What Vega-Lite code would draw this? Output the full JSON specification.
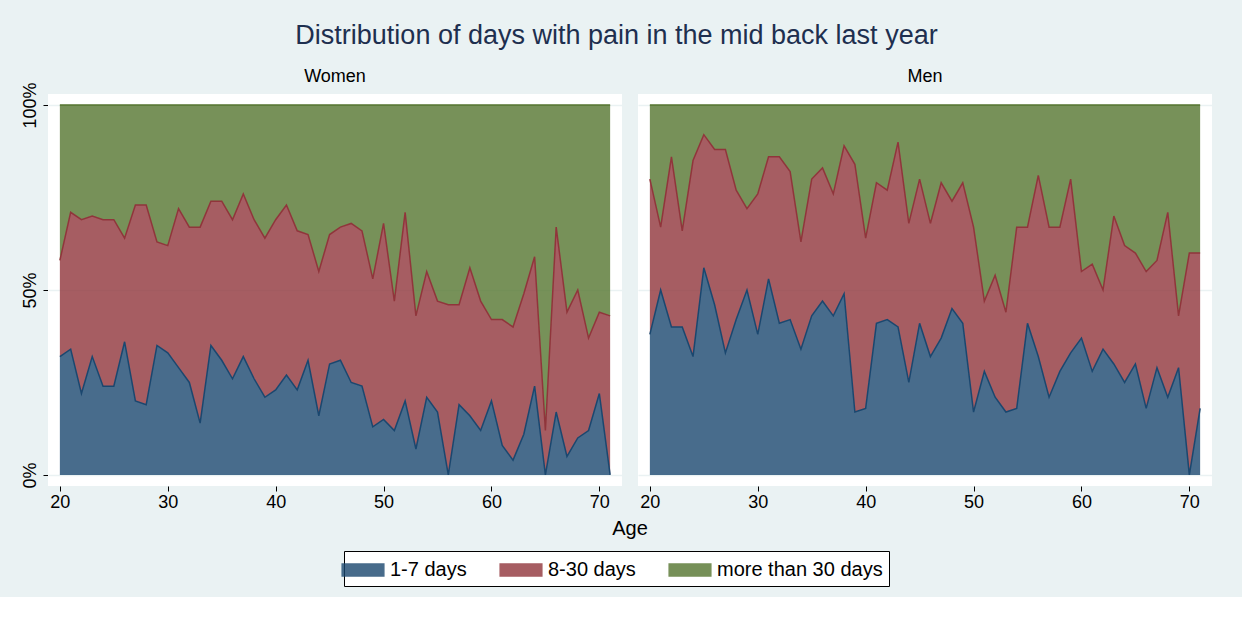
{
"$schema":"https://vega.github.io/schema/vega-lite/v6.json",
"background":"#eaf2f3",
"padding":{"left":20,"top":22,"right":30,"bottom":10},
"title":{"text":"Distribution of days with pain in the mid back last year","fontSize":27,"font":"Liberation Sans","fontWeight":"normal","color":"#1e2f4f","offset":18,"anchor":"middle"},
"data":{"values":[
{"s":"Women","age":20,"a":32,"b":26,"c":42},{"s":"Women","age":21,"a":34,"b":37,"c":29},{"s":"Women","age":22,"a":22,"b":47,"c":31},{"s":"Women","age":23,"a":32,"b":38,"c":30},{"s":"Women","age":24,"a":24,"b":45,"c":31},{"s":"Women","age":25,"a":24,"b":45,"c":31},{"s":"Women","age":26,"a":36,"b":28,"c":36},{"s":"Women","age":27,"a":20,"b":53,"c":27},{"s":"Women","age":28,"a":19,"b":54,"c":27},{"s":"Women","age":29,"a":35,"b":28,"c":37},{"s":"Women","age":30,"a":33,"b":29,"c":38},{"s":"Women","age":31,"a":29,"b":43,"c":28},{"s":"Women","age":32,"a":25,"b":42,"c":33},{"s":"Women","age":33,"a":14,"b":53,"c":33},{"s":"Women","age":34,"a":35,"b":39,"c":26},{"s":"Women","age":35,"a":31,"b":43,"c":26},{"s":"Women","age":36,"a":26,"b":43,"c":31},{"s":"Women","age":37,"a":32,"b":44,"c":24},{"s":"Women","age":38,"a":26,"b":43,"c":31},{"s":"Women","age":39,"a":21,"b":43,"c":36},{"s":"Women","age":40,"a":23,"b":46,"c":31},{"s":"Women","age":41,"a":27,"b":46,"c":27},{"s":"Women","age":42,"a":23,"b":43,"c":34},{"s":"Women","age":43,"a":31,"b":34,"c":35},{"s":"Women","age":44,"a":16,"b":39,"c":45},{"s":"Women","age":45,"a":30,"b":35,"c":35},{"s":"Women","age":46,"a":31,"b":36,"c":33},{"s":"Women","age":47,"a":25,"b":43,"c":32},{"s":"Women","age":48,"a":24,"b":42,"c":34},{"s":"Women","age":49,"a":13,"b":40,"c":47},{"s":"Women","age":50,"a":15,"b":53,"c":32},{"s":"Women","age":51,"a":12,"b":35,"c":53},{"s":"Women","age":52,"a":20,"b":51,"c":29},{"s":"Women","age":53,"a":7,"b":36,"c":57},{"s":"Women","age":54,"a":21,"b":34,"c":45},{"s":"Women","age":55,"a":17,"b":30,"c":53},{"s":"Women","age":56,"a":0,"b":46,"c":54},{"s":"Women","age":57,"a":19,"b":27,"c":54},{"s":"Women","age":58,"a":16,"b":40,"c":44},{"s":"Women","age":59,"a":12,"b":35,"c":53},{"s":"Women","age":60,"a":20,"b":22,"c":58},{"s":"Women","age":61,"a":8,"b":34,"c":58},{"s":"Women","age":62,"a":4,"b":36,"c":60},{"s":"Women","age":63,"a":11,"b":38,"c":51},{"s":"Women","age":64,"a":24,"b":35,"c":41},{"s":"Women","age":65,"a":0,"b":12,"c":88},{"s":"Women","age":66,"a":17,"b":50,"c":33},{"s":"Women","age":67,"a":5,"b":39,"c":56},{"s":"Women","age":68,"a":10,"b":40,"c":50},{"s":"Women","age":69,"a":12,"b":25,"c":63},{"s":"Women","age":70,"a":22,"b":22,"c":56},{"s":"Women","age":71,"a":0,"b":43,"c":57},
{"s":"Men","age":20,"a":38,"b":42,"c":20},{"s":"Men","age":21,"a":50,"b":17,"c":33},{"s":"Men","age":22,"a":40,"b":46,"c":14},{"s":"Men","age":23,"a":40,"b":26,"c":34},{"s":"Men","age":24,"a":32,"b":53,"c":15},{"s":"Men","age":25,"a":56,"b":36,"c":8},{"s":"Men","age":26,"a":46,"b":42,"c":12},{"s":"Men","age":27,"a":33,"b":55,"c":12},{"s":"Men","age":28,"a":42,"b":35,"c":23},{"s":"Men","age":29,"a":50,"b":22,"c":28},{"s":"Men","age":30,"a":38,"b":38,"c":24},{"s":"Men","age":31,"a":53,"b":33,"c":14},{"s":"Men","age":32,"a":41,"b":45,"c":14},{"s":"Men","age":33,"a":42,"b":40,"c":18},{"s":"Men","age":34,"a":34,"b":29,"c":37},{"s":"Men","age":35,"a":43,"b":37,"c":20},{"s":"Men","age":36,"a":47,"b":36,"c":17},{"s":"Men","age":37,"a":43,"b":33,"c":24},{"s":"Men","age":38,"a":49,"b":40,"c":11},{"s":"Men","age":39,"a":17,"b":67,"c":16},{"s":"Men","age":40,"a":18,"b":46,"c":36},{"s":"Men","age":41,"a":41,"b":38,"c":21},{"s":"Men","age":42,"a":42,"b":35,"c":23},{"s":"Men","age":43,"a":40,"b":50,"c":10},{"s":"Men","age":44,"a":25,"b":43,"c":32},{"s":"Men","age":45,"a":41,"b":39,"c":20},{"s":"Men","age":46,"a":32,"b":36,"c":32},{"s":"Men","age":47,"a":37,"b":42,"c":21},{"s":"Men","age":48,"a":45,"b":29,"c":26},{"s":"Men","age":49,"a":41,"b":38,"c":21},{"s":"Men","age":50,"a":17,"b":50,"c":33},{"s":"Men","age":51,"a":28,"b":19,"c":53},{"s":"Men","age":52,"a":21,"b":33,"c":46},{"s":"Men","age":53,"a":17,"b":27,"c":56},{"s":"Men","age":54,"a":18,"b":49,"c":33},{"s":"Men","age":55,"a":41,"b":26,"c":33},{"s":"Men","age":56,"a":32,"b":49,"c":19},{"s":"Men","age":57,"a":21,"b":46,"c":33},{"s":"Men","age":58,"a":28,"b":39,"c":33},{"s":"Men","age":59,"a":33,"b":47,"c":20},{"s":"Men","age":60,"a":37,"b":18,"c":45},{"s":"Men","age":61,"a":28,"b":29,"c":43},{"s":"Men","age":62,"a":34,"b":16,"c":50},{"s":"Men","age":63,"a":30,"b":40,"c":30},{"s":"Men","age":64,"a":25,"b":37,"c":38},{"s":"Men","age":65,"a":30,"b":30,"c":40},{"s":"Men","age":66,"a":18,"b":37,"c":45},{"s":"Men","age":67,"a":29,"b":29,"c":42},{"s":"Men","age":68,"a":21,"b":50,"c":29},{"s":"Men","age":69,"a":29,"b":14,"c":57},{"s":"Men","age":70,"a":0,"b":60,"c":40},{"s":"Men","age":71,"a":18,"b":42,"c":40}
]},
"transform":[
{"fold":["a","b","c"],"as":["k","v"]},
{"lookup":"k","from":{"data":{"values":[{"k":"a","cat":"1-7 days","o":1},{"k":"b","cat":"8-30 days","o":2},{"k":"c","cat":"more than 30 days","o":3}]},"key":"k","fields":["cat","o"]}}
],
"facet":{"column":{"field":"s","type":"nominal","sort":["Women","Men"],"title":"Age",
 "header":{"titleOrient":"bottom","labelOrient":"top","titleFontSize":20,"titleFont":"Liberation Sans","titleFontWeight":"normal","titleColor":"#000","titlePadding":-2,"labelFontSize":18,"labelFont":"Liberation Sans","labelColor":"#000","labelPadding":8}}},
"spacing":16,
"spec":{
 "width":574,"height":392,
 "mark":{"type":"area","line":{"strokeWidth":1.5},"fillOpacity":0.8},
 "encoding":{
  "x":{"field":"age","type":"quantitative","scale":{"domain":[18.9,72.1],"nice":false,"zero":false},
   "axis":{"values":[20,30,40,50,60,70],"title":null,"grid":false,"labelFontSize":18,"labelFont":"Liberation Sans","labelColor":"#000","tickColor":"#000","domain":false,"tickSize":5}},
  "y":{"field":"v","type":"quantitative","stack":"zero","scale":{"domain":[-3,103],"nice":false},
   "axis":{"values":[0,50,100],"labelExpr":"datum.value+'%'","title":null,"labelAngle":-90,"labelAlign":"center","labelBaseline":"bottom","labelFontSize":18,"labelFont":"Liberation Sans","labelColor":"#000","grid":true,"gridColor":"#eaf2f3","gridWidth":1.5,"domain":false,"tickColor":"#000","tickSize":5,"labelPadding":4}},
  "color":{"field":"cat","type":"nominal","scale":{"domain":["1-7 days","8-30 days","more than 30 days"],"range":["#1a476f","#90353b","#55752f"]},
   "legend":{"title":null,"orient":"bottom","direction":"horizontal","columns":3,"symbolType":"M-1.7,-0.5H1.7V0.5H-1.7Z","symbolSize":600,"symbolOpacity":0.8,"labelFontSize":20,"labelFont":"Liberation Sans","labelColor":"#000","columnPadding":30,"labelOffset":14,"strokeColor":"#000","fillColor":"#fff","padding":6,"offset":12,"labelLimit":300}},
  "order":{"field":"o","type":"quantitative"}
 }
},
"config":{"view":{"fill":"#ffffff","stroke":null},"legend":{"symbolStrokeWidth":1.5,"layout":{"bottom":{"anchor":"middle"}}}}
}
